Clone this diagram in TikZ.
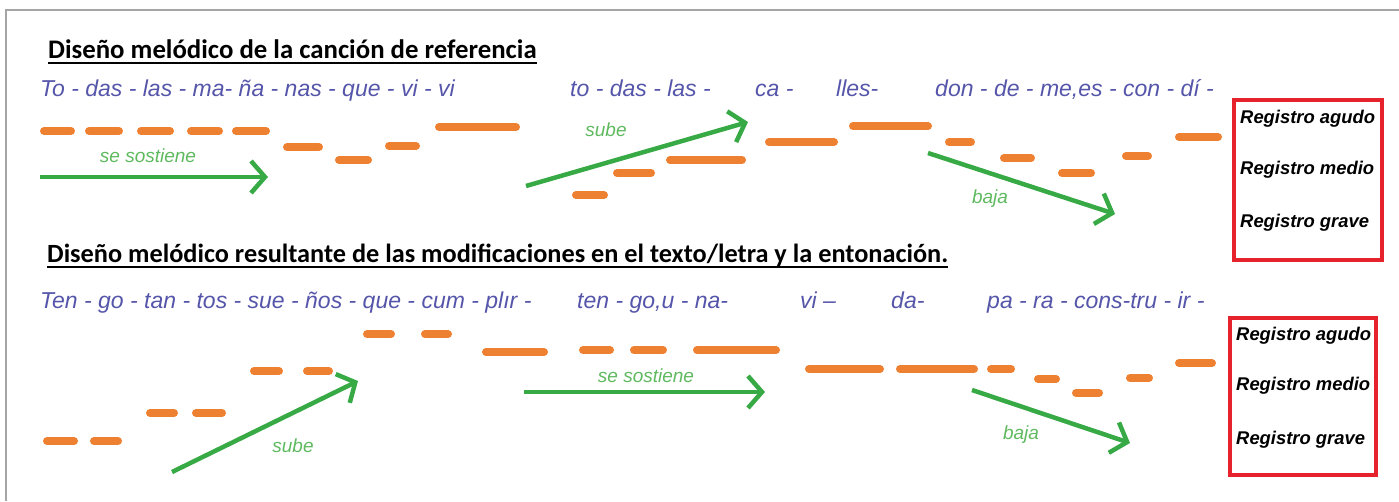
\documentclass[tikz,border=0pt]{standalone}
\usepackage{fontspec}
\setmainfont{Liberation Sans}
\newfontfamily\titlefont{Carlito}
\usetikzlibrary{arrows.meta}
\definecolor{sylc}{RGB}{85,85,170}
\definecolor{barc}{RGB}{238,128,50}
\definecolor{arrc}{RGB}{55,170,70}
\definecolor{labc}{RGB}{95,185,95}
\definecolor{regred}{RGB}{230,35,45}
\definecolor{framec}{RGB}{165,165,165}
\tikzset{
  notebar/.style={draw=barc, line width=8pt, line cap=round},
  trend/.style={draw=arrc, line width=4.5pt, -{Straight Barb[length=14pt,width=32pt]}},
  syl/.style={anchor=base west, inner sep=0pt, text=sylc, font=\fontsize{23}{26}\selectfont\itshape},
  lab/.style={inner sep=0pt, text=labc, font=\fontsize{19}{21}\selectfont\itshape},
  ttl/.style={anchor=base west, inner sep=0pt, font=\titlefont\fontsize{26.8}{30}\selectfont\bfseries},
  ttlb/.style={ttl, font=\titlefont\fontsize{26.3}{30}\selectfont\bfseries},
  reg/.style={anchor=base west, inner sep=0pt, font=\fontsize{18.4}{20}\selectfont\bfseries\itshape},
  regbox/.style={draw=regred, line width=4pt},
  uline/.style={line width=2pt}
}
\begin{document}
\begin{tikzpicture}[x=1pt,y=-1pt]
\useasboundingbox (0,0) rectangle (1399,501);
% frame
\coordinate (f1) at (6,501); \coordinate (f2) at (6,10); \coordinate (f3) at (1399,10);
\draw[draw=framec, line width=1.5pt] (f1) -- (f2) -- (f3);

% titles
\node[ttl] (t1) at (48,58) {Diseño melódico de la canción de referencia};
\draw[uline] ([yshift=-5pt]t1.base west) -- ([yshift=-5pt]t1.base east);
\node[ttlb] (t2) at (47,262) {Diseño melódico resultante de las modificaciones en el texto/letra y la entonación.};
\draw[uline] ([yshift=-5pt]t2.base west) -- ([yshift=-5pt]t2.base east);

% syllables row 1
\node[syl] (s1a) at (40,96) {To - das - las - ma- ña - nas - que - vi - vi};
\node[syl] (s1b) at (570,96) {to - das - las -};
\node[syl] (s1c) at (755,96) {ca -};
\node[syl] (s1d) at (836,96) {lles-};
\node[syl] (s1e) at (935,96) {don - de - me,es - con - dí -};

% syllables row 2
\node[syl] (s2a) at (40,308) {Ten - go - tan - tos - sue - ños - que - cum - plır -};
\node[syl] (s2b) at (577,308) {ten - go,u - na-};
\node[syl] (s2c) at (800,308) {vi –};
\node[syl] (s2d) at (891,308) {da-};
\node[syl] (s2e) at (987,308) {pa - ra - cons-tru - ir -};

% bars row 1
\foreach \xa/\xb/\y in {40/75/131, 85/123/131, 137/174/131, 187/223/131, 232/270/131,
  283/323/147, 335/372/160, 385/420/146, 435/520/127,
  572/608/195, 613/655/173, 666/746/160, 765/838/142, 849/932/126,
  945/975/142, 1000/1035/158, 1058/1095/173, 1122/1152/156, 1175/1222/137}
  \draw[notebar] (\xa+4,\y) -- (\xb-4,\y);

% bars row 2
\foreach \xa/\xb/\y in {43/78/441, 90/122/441, 146/178/413, 192/226/413,
  250/283/371, 303/333/371, 363/395/334, 421/452/334, 482/548/352,
  579/614/350, 630/667/350, 693/780/350, 805/884/369, 896/978/369, 987/1015/369,
  1034/1060/379, 1072/1103/393, 1126/1153/378, 1175/1216/363}
  \draw[notebar] (\xa+4,\y) -- (\xb-4,\y);

% arrows row 1
\coordinate (a1s) at (40,177); \coordinate (a1e) at (268,177);
\coordinate (a2s) at (526,186); \coordinate (a2e) at (748,122);
\coordinate (a3s) at (928,153); \coordinate (a3e) at (1115,214);
\draw[trend] (a1s) -- (a1e);
\draw[trend] (a2s) -- (a2e);
\draw[trend] (a3s) -- (a3e);
\node[lab] (l1) at (148,156) {se sostiene};
\node[lab] (l2) at (606,130) {sube};
\node[lab] (l3) at (990,199) {baja};

% arrows row 2
\coordinate (b1s) at (172,472); \coordinate (b1e) at (358,381);
\coordinate (b2s) at (524,392); \coordinate (b2e) at (765,392);
\coordinate (b3s) at (972,390); \coordinate (b3e) at (1130,443);
\draw[trend] (b1s) -- (b1e);
\draw[trend] (b2s) -- (b2e);
\draw[trend] (b3s) -- (b3e);
\node[lab] (m1) at (293,446) {sube};
\node[lab] (m2) at (646,376) {se sostiene};
\node[lab] (m3) at (1021,435) {baja};

% register boxes
\node[regbox, minimum width=148pt, minimum height=160pt, anchor=north west] (r1) at (1232,98) {};
\node[reg] (r1a) at (1240,123) {Registro agudo};
\node[reg] (r1b) at (1240,174) {Registro medio};
\node[reg] (r1c) at (1240,227) {Registro grave};

\node[regbox, minimum width=146pt, minimum height=157pt, anchor=north west] (r2) at (1228,316) {};
\node[reg] (r2a) at (1236,340) {Registro agudo};
\node[reg] (r2b) at (1236,390) {Registro medio};
\node[reg] (r2c) at (1236,444) {Registro grave};
\end{tikzpicture}
\end{document}
